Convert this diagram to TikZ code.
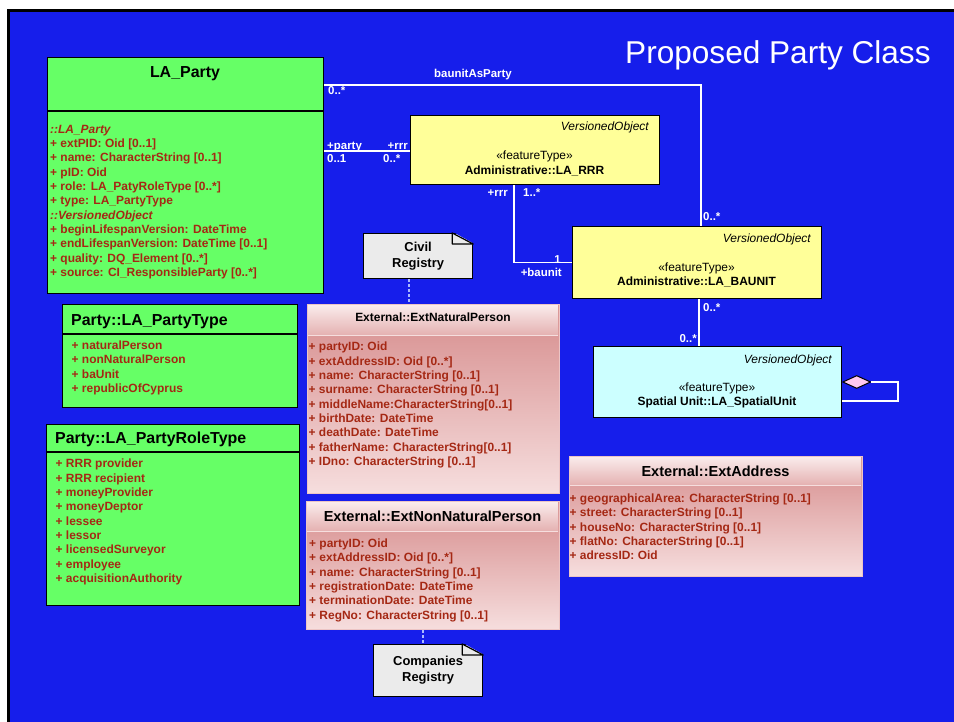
\documentclass[tikz,border=0pt]{standalone}
\usepackage{fontspec}
\setmainfont{Liberation Sans}
\usetikzlibrary{calc,shapes.geometric}

\definecolor{slideblue}{RGB}{22,30,235}
\definecolor{partygreen}{RGB}{102,255,102}
\definecolor{adminyellow}{RGB}{255,255,153}
\definecolor{spatialcyan}{RGB}{204,255,255}
\definecolor{attrred}{RGB}{165,40,20}
\definecolor{extdark}{RGB}{214,140,140}
\definecolor{extlight}{RGB}{246,222,222}
\definecolor{notegrey}{RGB}{235,235,235}
\definecolor{aggpink}{RGB}{255,200,240}
\definecolor{tracelight}{RGB}{170,185,255}

\begin{document}
\begin{tikzpicture}[x=1bp,y=-1bp,
	box/.style={draw=black, line width=1.2pt, anchor=north west, inner sep=0pt},
	greenbox/.style={box, fill=partygreen},
	extbox/.style={box, draw=extlight!70!extdark, line width=1pt, top color=extdark, bottom color=extlight},
	exthead/.style={anchor=north west, inner sep=0pt, top color=extlight!60!white, bottom color=extdark!55!extlight},
	attr/.style={anchor=north west, inner sep=0pt, align=left, text=attrred, font=\fontsize{12}{14.4}\selectfont\bfseries},
	head/.style={inner sep=0pt, font=\fontsize{16}{19}\selectfont\bfseries},
	exttitle/.style={inner sep=0pt, anchor=base, font=\fontsize{14.6}{17}\selectfont\bfseries},
	stereo/.style={inner sep=0pt, anchor=base, font=\fontsize{12}{14}\selectfont},
	vobj/.style={inner sep=0pt, anchor=base east, font=\fontsize{12}{14}\selectfont\itshape},
	cname/.style={inner sep=0pt, anchor=base, font=\fontsize{12}{14}\selectfont\bfseries},
	mult/.style={inner sep=0pt, text=white, font=\fontsize{11.5}{13}\selectfont\bfseries},
	assoc/.style={draw=white, line width=1.8pt},
	trace/.style={draw=tracelight, line width=1.2pt, dash pattern=on 3pt off 2pt},
	note/.style={box, fill=notegrey, align=center, font=\fontsize{13}{16}\selectfont\bfseries}
]

	% ---- page

	\useasboundingbox (0,0) rectangle (954,722);
	\fill[white] (0,0) rectangle (954,722);
	\fill[slideblue] (8.5,10.5) rectangle (954,722);
	\draw[black, line width=3pt] (954,10.5) -- (8.5,10.5) -- (8.5,722);

	\node[anchor=base west, inner sep=0pt, text=white, font=\fontsize{31.7}{37}\selectfont] (title) at (625,64) {Proposed Party Class};

	% ---- party classes

	\node[greenbox, minimum width=276bp, minimum height=236bp] (party) at (47,57) {};
	\draw[line width=1.2pt] (party.west |- 0,111) -- (party.east |- 0,111);
	\node[head, anchor=base] (partyname) at (185,78) {LA\_Party};
	\node[attr] (partyattr) at (50,124.6) {\textit{::LA\_Party}\\+ extPID: Oid [0..1]\\+ name: CharacterString [0..1]\\+ pID: Oid\\+ role: LA\_PatyRoleType [0..*]\\+ type: LA\_PartyType\\\textit{::VersionedObject}\\+ beginLifespanVersion: DateTime\\+ endLifespanVersion: DateTime [0..1]\\+ quality: DQ\_Element [0..*]\\+ source: CI\_ResponsibleParty [0..*]};

	\node[greenbox, minimum width=235bp, minimum height=103bp] (ptype) at (62,304) {};
	\draw[line width=1.2pt] (ptype.west |- 0,334) -- (ptype.east |- 0,334);
	\node[head, anchor=base west] (ptypename) at (71,325.7) {Party::LA\_PartyType};
	\node[attr] (ptypeattr) at (71.5,340.6) {+ naturalPerson\\+ nonNaturalPerson\\+ baUnit\\+ republicOfCyprus};

	\node[greenbox, minimum width=253bp, minimum height=181bp] (prole) at (46,424) {};
	\draw[line width=1.2pt] (prole.west |- 0,452) -- (prole.east |- 0,452);
	\node[head, anchor=base west] (prolename) at (55,443.7) {Party::LA\_PartyRoleType};
	\node[attr] (proleattr) at (55.5,459) {+ RRR provider\\+ RRR recipient\\+ moneyProvider\\+ moneyDeptor\\+ lessee\\+ lessor\\+ licensedSurveyor\\+ employee\\+ acquisitionAuthority};

	% ---- feature types

	\node[box, fill=adminyellow, minimum width=249bp, minimum height=69bp] (rrr) at (410,115) {};
	\node[vobj] (rrrvo) at (649,130.7) {VersionedObject};
	\node[stereo] (rrrst) at (534.5,160) {«featureType»};
	\node[cname] (rrrname) at (534.5,174.3) {Administrative::LA\_RRR};

	\node[box, fill=adminyellow, minimum width=249bp, minimum height=72bp] (baunit) at (572,226) {};
	\node[vobj] (baunitvo) at (811,242) {VersionedObject};
	\node[stereo] (baunitst) at (696.5,271) {«featureType»};
	\node[cname] (baunitname) at (696.5,285.7) {Administrative::LA\_BAUNIT};

	\node[box, fill=spatialcyan, minimum width=248bp, minimum height=71bp] (spatial) at (593,346) {};
	\node[vobj] (spatialvo) at (832,363.3) {VersionedObject};
	\node[stereo] (spatialst) at (717,391) {«featureType»};
	\node[cname] (spatialname) at (717,405.7) {Spatial Unit::LA\_SpatialUnit};

	% ---- external classes

	\node[extbox, minimum width=252bp, minimum height=189bp] (natural) at (307,304) {};
	\node[exthead, minimum width=250bp, minimum height=30bp] (naturalhead) at (308,305) {};
	\draw[extlight, line width=1pt] (naturalhead.south west) -- (naturalhead.south east);
	\node[cname] (naturalname) at (433,321.3) {External::ExtNaturalPerson};
	\node[attr] (naturalattr) at (308.5,342) {+ partyID: Oid\\+ extAddressID: Oid [0..*]\\+ name: CharacterString [0..1]\\+ surname: CharacterString [0..1]\\+ middleName:CharacterString[0..1]\\+ birthDate: DateTime\\+ deathDate: DateTime\\+ fatherName: CharacterString[0..1]\\+ IDno: CharacterString [0..1]};

	\node[extbox, minimum width=253bp, minimum height=128bp] (nonnat) at (306,501) {};
	\node[exthead, minimum width=251bp, minimum height=29bp] (nonnathead) at (307,502) {};
	\draw[extlight, line width=1pt] (nonnathead.south west) -- (nonnathead.south east);
	\node[exttitle] (nonnatname) at (432.5,521.2) {External::ExtNonNaturalPerson};
	\node[attr] (nonnatattr) at (309,538.6) {+ partyID: Oid\\+ extAddressID: Oid [0..*]\\+ name: CharacterString [0..1]\\+ registrationDate: DateTime\\+ terminationDate: DateTime\\+ RegNo: CharacterString [0..1]};

	\node[extbox, minimum width=293bp, minimum height=120bp] (address) at (569,456) {};
	\node[exthead, minimum width=291bp, minimum height=28bp] (addresshead) at (570,457) {};
	\draw[extlight, line width=1pt] (addresshead.south west) -- (addresshead.south east);
	\node[exttitle] (addressname) at (715.5,476.2) {External::ExtAddress};
	\node[attr] (addressattr) at (569.5,493.6) {+ geographicalArea: CharacterString [0..1]\\+ street: CharacterString [0..1]\\+ houseNo: CharacterString [0..1]\\+ flatNo: CharacterString [0..1]\\+ adressID: Oid};

	% ---- notes

	\node[note, minimum width=109bp, minimum height=45bp] (civil) at (363,233) {Civil\\Registry};
	\node[note, minimum width=109bp, minimum height=52bp] (company) at (373,644) {Companies\\Registry};

	\foreach \n in {civil,company} {
		\fill[slideblue] ($(\n.north east)+(-21,-1.5)$) -- ($(\n.north east)+(1.5,-1.5)$) -- ($(\n.north east)+(1.5,11)$) -- cycle;
		\filldraw[fill=notegrey, line width=1.2pt, line join=round] ($(\n.north east)+(-21,0)$) -- ($(\n.north east)+(0,11)$) -- ($(\n.north east)+(-21,11)$) -- cycle;
	}

	\draw[trace] (civil.south -| 409,0) -- (natural.north -| 409,0);
	\draw[trace] (nonnat.south -| 423,0) -- (company.north -| 423,0);

	% ---- associations

	\draw[assoc] (party.east |- 0,85) -| ([xshift=3.5bp]baunit.north);
	\draw[assoc] (party.east |- 0,151) -- (rrr.west |- 0,151);
	\draw[assoc] (rrr.south -| 514,0) |- (baunit.west);
	\draw[assoc] (baunit.south -| 699,0) -- (spatial.north -| 699,0);

	\node[diamond, aspect=2, draw=black, line width=1pt, fill=aggpink, minimum width=28bp, minimum height=13bp, inner sep=0pt, anchor=west] (agg) at (spatial.east |- 0,382) {};
	\coordinate (aggloop) at (898,401);
	\draw[assoc] (agg.east) -| (aggloop) -- (spatial.east |- aggloop);

	% ---- multiplicities

	\node[mult, anchor=base] (asparty) at (473,77.3) {baunitAsParty};
	\node[mult, anchor=base west] (m1) at (328,95) {0..*};
	\node[mult, anchor=base west] (m2) at (327,149.3) {+party};
	\node[mult, anchor=base west] (m3) at (327,162.7) {0..1};
	\node[mult, anchor=base east] (m4) at (408,149.3) {+rrr};
	\node[mult, anchor=base west] (m5) at (383,162.7) {0..*};
	\node[mult, anchor=base east] (m6) at (508,196) {+rrr};
	\node[mult, anchor=base west] (m7) at (523,196) {1..*};
	\node[mult, anchor=base west] (m8) at (703,220.7) {0..*};
	\node[mult, anchor=base east] (m9) at (561,263.3) {1};
	\node[mult, anchor=base east] (m10) at (562,276) {+baunit};
	\node[mult, anchor=base west] (m11) at (703,311.7) {0..*};
	\node[mult, anchor=base east] (m12) at (697,342.3) {0..*};

\end{tikzpicture}
\end{document}
